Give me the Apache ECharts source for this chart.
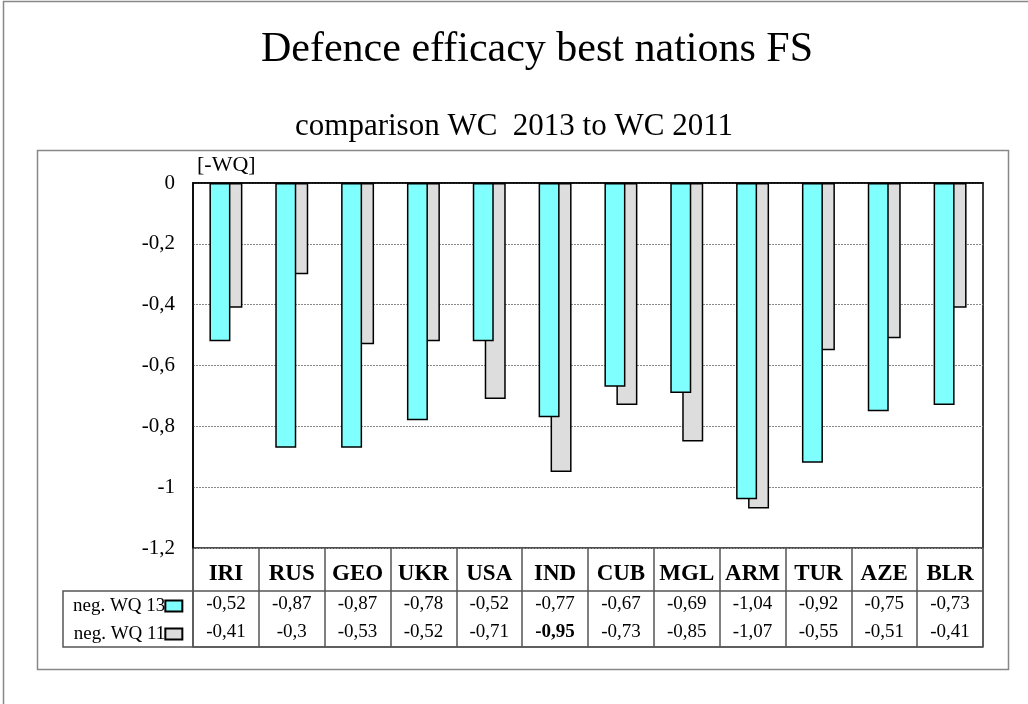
<!DOCTYPE html>
<html>
<head>
<meta charset="utf-8">
<script src="https://cdn.jsdelivr.net/npm/echarts@6/dist/echarts.min.js"></script>
<style>
  html, body { margin: 0; padding: 0; background: #fff; }
  #chart { width: 1028px; height: 704px; }
</style>
</head>
<body>
<div id="chart"></div>
<script>
// data
var nations = ['IRI', 'RUS', 'GEO', 'UKR', 'USA', 'IND', 'CUB', 'MGL', 'ARM', 'TUR', 'AZE', 'BLR'];
var wq13 = [-0.52, -0.87, -0.87, -0.78, -0.52, -0.77, -0.67, -0.69, -1.04, -0.92, -0.75, -0.73];
var wq11 = [-0.41, -0.30, -0.53, -0.52, -0.71, -0.95, -0.73, -0.85, -1.07, -0.55, -0.51, -0.41];
var seriesNames = ['neg. WQ 13', 'neg. WQ 11'];
var boldWq11 = ['IND'];

var serif = "'Liberation Serif', 'Times New Roman', serif";

// comma decimals like the source sheet
function fmt(v) {
    return String(+v.toFixed(2)).replace('.', ',');
}

var chart = echarts.init(document.getElementById('chart'));

var gridL = 193, gridT = 183, gridW = 790, gridH = 365;
var headH = 43, rowH = 28;
var tblTop = gridT + gridH;
var row1 = tblTop + headH, tblBot = row1 + 2 * rowH;
var tblLeft = 63;
var lineCol = '#555';

var option = {
    animation: false,
    title: [{
        text: 'Defence efficacy best nations FS',
        left: 256,
        top: 24,
        textStyle: { fontFamily: serif, fontSize: 42, fontWeight: 'normal', color: '#000' }
    }, {
        text: 'comparison WC  2013 to WC 2011',
        left: 'center',
        top: 106,
        textStyle: { fontFamily: serif, fontSize: 31, fontWeight: 'normal', color: '#000' }
    }],
    legend: {
        data: seriesNames,
        orient: 'vertical',
        align: 'right',
        left: 68,
        top: row1 - 1,
        itemWidth: 17,
        itemHeight: 11,
        itemGap: 6,
        icon: 'rect',
        textStyle: { fontFamily: serif, fontSize: 19, lineHeight: 22, color: '#000', padding: [0, -5, 0, 0] }
    },
    grid: [{
        left: gridL, top: gridT, width: gridW, height: gridH,
        show: true, borderColor: '#000', borderWidth: 1.5, backgroundColor: '#fff'
    }, {
        // the data table under the plot
        left: gridL, top: tblTop, width: gridW, height: tblBot - tblTop,
        show: true, borderColor: lineCol, borderWidth: 1.5
    }],
    xAxis: [{
        type: 'category',
        data: nations,
        gridIndex: 0,
        axisLine: { lineStyle: { color: '#000', width: 1.5 } },
        axisTick: { show: false },
        axisLabel: {
            interval: 0,
            margin: 10,
            // header row + two data rows
            formatter: function (v, i) {
                var b = boldWq11.indexOf(nations[i]) >= 0 ? 'vb' : 'v';
                return '{h|' + v + '}\n{v|' + fmt(wq13[i]) + '}\n{' + b + '|' + fmt(wq11[i]) + '}';
            },
            rich: {
                h: { fontFamily: serif, fontSize: 23, fontWeight: 'bold', color: '#000', lineHeight: headH - 11 },
                v: { fontFamily: serif, fontSize: 19, color: '#000', lineHeight: rowH },
                vb: { fontFamily: serif, fontSize: 19, fontWeight: 'bold', color: '#000', lineHeight: rowH }
            }
        }
    }, {
        type: 'category',
        data: nations,
        gridIndex: 1,
        axisLine: { show: false },
        axisTick: { show: false },
        axisLabel: { show: false },
        splitLine: { show: true, interval: 0, lineStyle: { color: lineCol, width: 1.5 } }
    }],
    yAxis: [{
        type: 'value',
        gridIndex: 0,
        min: -1.2,
        max: 0,
        interval: 0.2,
        name: '[-WQ]',
        nameLocation: 'end',
        nameGap: 7,
        nameTextStyle: { fontFamily: serif, fontSize: 22, color: '#000', align: 'left', padding: [0, 0, 0, 4] },
        axisLine: { show: true, lineStyle: { color: '#000', width: 1.5 } },
        axisTick: { show: false },
        axisLabel: {
            margin: 18, fontFamily: serif, fontSize: 21, color: '#000',
            formatter: function (v) { return String(+v.toFixed(1)).replace('.', ','); }
        },
        splitLine: { lineStyle: { color: '#888', type: [2, 1], width: 1 } }
    }, {
        type: 'value',
        gridIndex: 1,
        show: false
    }],
    series: [{
        name: seriesNames[0],
        type: 'bar',
        data: wq13,
        barWidth: 21,
        barGap: '-43%',
        z: 3,
        itemStyle: { color: '#80FFFF', borderColor: '#000', borderWidth: 1.5 }
    }, {
        name: seriesNames[1],
        type: 'bar',
        data: wq11,
        barWidth: 21,
        barGap: '-43%',
        z: 2,
        itemStyle: { color: '#DDDDDD', borderColor: '#000', borderWidth: 1.5 }
    }],
    graphic: [{
        type: 'rect', silent: true, z: -10,
        shape: { x: 3.5, y: 1.5, width: 1100, height: 800 },
        style: { fill: 'none', stroke: '#888', lineWidth: 1.5 }
    }, {
        type: 'rect', silent: true, z: -10,
        shape: { x: 37.5, y: 150.5, width: 971, height: 519 },
        style: { fill: 'none', stroke: '#888', lineWidth: 1.5 }
    }, {
        type: 'polyline', silent: true,
        shape: { points: [[gridL + gridW, row1], [tblLeft, row1], [tblLeft, tblBot], [gridL + gridW, tblBot]] },
        style: { fill: 'none', stroke: lineCol, lineWidth: 1.5 }
    }]
};

chart.setOption(option);
window.addEventListener('resize', function () {
    chart.resize();
});
</script>
</body>
</html>
